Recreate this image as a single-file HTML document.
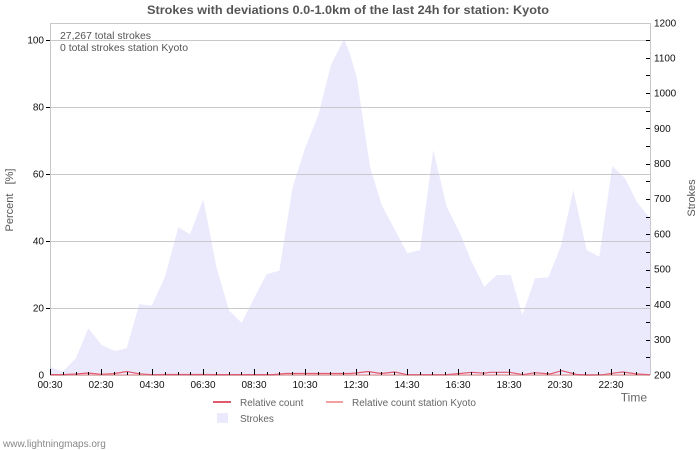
<!DOCTYPE html>
<html>
<head>
<meta charset="utf-8">
<style>
html,body{margin:0;padding:0;background:#fff;}
svg{display:block;}
text{font-family:"Liberation Sans",sans-serif;}
</style>
</head>
<body>
<svg width="700" height="450" viewBox="0 0 700 450" xmlns="http://www.w3.org/2000/svg">
<rect x="0" y="0" width="700" height="450" fill="#fff"/>
<!-- title -->
<text x="348" y="14" text-anchor="middle" font-size="12" font-weight="bold" fill="#555" textLength="402" lengthAdjust="spacingAndGlyphs">Strokes with deviations 0.0-1.0km of the last 24h for station: Kyoto</text>

<!-- area -->
<polygon fill="#ebeafd" points="50,375 50,366.7 62.7,371.7 76,358 88.3,328.3 101.7,345 115,351 126.7,348.3 139.3,304 151.7,305.7 165,276.7 178.3,227.3 190,234.3 203.3,199.3 216.7,268.3 229.3,310.7 241.7,322.7 254,298.3 266.7,274 279.3,270.7 292.7,186.7 305,148.3 318.3,115 331,65 344,39 350,54 356.7,76.7 370,166.7 381.7,205 395,230 407.3,253.3 420,250 433.3,150 446.7,206.7 460,233.3 471.7,261.7 484.3,286.7 496.7,275 510.7,275 522.3,315 535,278.3 548.3,277.3 560.7,246.7 573.3,190 586.7,250 599.3,256.7 612.3,166 625,178.3 636.7,201.7 650,218.3 650,375"/>

<!-- grid -->
<g stroke="#c8c8cc" stroke-width="1">
<line x1="50" y1="23.5" x2="650" y2="23.5"/>
<line x1="50" y1="40.5" x2="650" y2="40.5"/>
<line x1="50" y1="107.5" x2="650" y2="107.5"/>
<line x1="50" y1="174.5" x2="650" y2="174.5"/>
<line x1="50" y1="241.5" x2="650" y2="241.5"/>
<line x1="50" y1="308.5" x2="650" y2="308.5"/>
<line x1="50.5" y1="23" x2="50.5" y2="375"/>
<line x1="650.5" y1="23" x2="650.5" y2="375"/>
<line x1="50" y1="375.5" x2="650" y2="375.5"/>
</g>

<!-- red lines -->
<polyline fill="none" stroke="#f5a0a0" stroke-width="1.2" points="50,374.8 650,374.8"/>
<polyline fill="none" stroke="#e05a6e" stroke-width="1.2" points="50,374.6 63,374.6 76,374 88,373 101,374.3 114,373.6 127,371.5 139,373.8 152,374.7 165,374.5 203,374.5 216,374.6 273,374.6 286,373.5 350,373.5 356,373 368,371.5 381,373.5 395,372 407,374.7 420,374.7 446,374.7 459,373.6 471.7,372.3 484,373.2 490,372.3 510,372.3 523,374.7 535,372.7 550,374 561.7,370.7 576.7,374.5 590,375 603,374.7 616.7,372.7 623,372 636.7,374 650,374.7"/>

<!-- x ticks -->
<g stroke="#000" stroke-width="1">
<line x1="50.5" y1="369" x2="50.5" y2="375"/>
<line x1="63.5" y1="372" x2="63.5" y2="375"/>
<line x1="76.5" y1="372" x2="76.5" y2="375"/>
<line x1="88.5" y1="372" x2="88.5" y2="375"/>
<line x1="101.5" y1="369" x2="101.5" y2="375"/>
<line x1="114.5" y1="372" x2="114.5" y2="375"/>
<line x1="127.5" y1="372" x2="127.5" y2="375"/>
<line x1="139.5" y1="372" x2="139.5" y2="375"/>
<line x1="152.5" y1="369" x2="152.5" y2="375"/>
<line x1="165.5" y1="372" x2="165.5" y2="375"/>
<line x1="178.5" y1="372" x2="178.5" y2="375"/>
<line x1="190.5" y1="372" x2="190.5" y2="375"/>
<line x1="203.5" y1="369" x2="203.5" y2="375"/>
<line x1="216.5" y1="372" x2="216.5" y2="375"/>
<line x1="229.5" y1="372" x2="229.5" y2="375"/>
<line x1="241.5" y1="372" x2="241.5" y2="375"/>
<line x1="254.5" y1="369" x2="254.5" y2="375"/>
<line x1="267.5" y1="372" x2="267.5" y2="375"/>
<line x1="279.5" y1="372" x2="279.5" y2="375"/>
<line x1="292.5" y1="372" x2="292.5" y2="375"/>
<line x1="305.5" y1="369" x2="305.5" y2="375"/>
<line x1="318.5" y1="372" x2="318.5" y2="375"/>
<line x1="330.5" y1="372" x2="330.5" y2="375"/>
<line x1="343.5" y1="372" x2="343.5" y2="375"/>
<line x1="356.5" y1="369" x2="356.5" y2="375"/>
<line x1="369.5" y1="372" x2="369.5" y2="375"/>
<line x1="381.5" y1="372" x2="381.5" y2="375"/>
<line x1="394.5" y1="372" x2="394.5" y2="375"/>
<line x1="407.5" y1="369" x2="407.5" y2="375"/>
<line x1="420.5" y1="372" x2="420.5" y2="375"/>
<line x1="432.5" y1="372" x2="432.5" y2="375"/>
<line x1="445.5" y1="372" x2="445.5" y2="375"/>
<line x1="458.5" y1="369" x2="458.5" y2="375"/>
<line x1="471.5" y1="372" x2="471.5" y2="375"/>
<line x1="483.5" y1="372" x2="483.5" y2="375"/>
<line x1="496.5" y1="372" x2="496.5" y2="375"/>
<line x1="509.5" y1="369" x2="509.5" y2="375"/>
<line x1="522.5" y1="372" x2="522.5" y2="375"/>
<line x1="534.5" y1="372" x2="534.5" y2="375"/>
<line x1="547.5" y1="372" x2="547.5" y2="375"/>
<line x1="560.5" y1="369" x2="560.5" y2="375"/>
<line x1="573.5" y1="372" x2="573.5" y2="375"/>
<line x1="585.5" y1="372" x2="585.5" y2="375"/>
<line x1="598.5" y1="372" x2="598.5" y2="375"/>
<line x1="611.5" y1="369" x2="611.5" y2="375"/>
<line x1="624.5" y1="372" x2="624.5" y2="375"/>
<line x1="636.5" y1="372" x2="636.5" y2="375"/>
</g>

<!-- left ticks -->
<g stroke="#000" stroke-width="1">
<line x1="46" y1="40.5" x2="50" y2="40.5"/>
<line x1="46" y1="107.5" x2="50" y2="107.5"/>
<line x1="46" y1="174.5" x2="50" y2="174.5"/>
<line x1="46" y1="241.5" x2="50" y2="241.5"/>
<line x1="46" y1="308.5" x2="50" y2="308.5"/>
</g>

<!-- right ticks -->
<g stroke="#000" stroke-width="1">
<line x1="646" y1="40.5" x2="650" y2="40.5"/>
<line x1="646" y1="58.5" x2="650" y2="58.5"/>
<line x1="646" y1="75.5" x2="650" y2="75.5"/>
<line x1="646" y1="93.5" x2="650" y2="93.5"/>
<line x1="646" y1="111.5" x2="650" y2="111.5"/>
<line x1="646" y1="128.5" x2="650" y2="128.5"/>
<line x1="646" y1="146.5" x2="650" y2="146.5"/>
<line x1="646" y1="164.5" x2="650" y2="164.5"/>
<line x1="646" y1="181.5" x2="650" y2="181.5"/>
<line x1="646" y1="199.5" x2="650" y2="199.5"/>
<line x1="646" y1="217.5" x2="650" y2="217.5"/>
<line x1="646" y1="234.5" x2="650" y2="234.5"/>
<line x1="646" y1="252.5" x2="650" y2="252.5"/>
<line x1="646" y1="270.5" x2="650" y2="270.5"/>
<line x1="646" y1="287.5" x2="650" y2="287.5"/>
<line x1="646" y1="305.5" x2="650" y2="305.5"/>
<line x1="646" y1="322.5" x2="650" y2="322.5"/>
<line x1="646" y1="340.5" x2="650" y2="340.5"/>
<line x1="646" y1="357.5" x2="650" y2="357.5"/>
</g>

<!-- left labels -->
<g font-size="10" fill="#111" text-anchor="end">
<text x="44" y="43.5">100</text>
<text x="44" y="110.5">80</text>
<text x="44" y="177.5">60</text>
<text x="44" y="244.5">40</text>
<text x="44" y="311.5">20</text>
<text x="44" y="378.5">0</text>
</g>

<!-- right labels -->
<g font-size="10" fill="#111">
<text x="654" y="26.5">1200</text>
<text x="654" y="61.5">1100</text>
<text x="654" y="96.5">1000</text>
<text x="654" y="132">900</text>
<text x="654" y="167">800</text>
<text x="654" y="202">700</text>
<text x="654" y="237.5">600</text>
<text x="654" y="272.5">500</text>
<text x="654" y="308">400</text>
<text x="654" y="343">300</text>
<text x="654" y="378.5">200</text>
</g>

<!-- x labels -->
<g font-size="10" fill="#111" text-anchor="middle">
<text x="50" y="388">00:30</text>
<text x="101" y="388">02:30</text>
<text x="152" y="388">04:30</text>
<text x="203" y="388">06:30</text>
<text x="254" y="388">08:30</text>
<text x="305" y="388">10:30</text>
<text x="356" y="388">12:30</text>
<text x="407" y="388">14:30</text>
<text x="458" y="388">16:30</text>
<text x="509" y="388">18:30</text>
<text x="560" y="388">20:30</text>
<text x="611" y="388">22:30</text>
</g>

<!-- annotations -->
<text x="60" y="39" font-size="10" fill="#555" textLength="91" lengthAdjust="spacingAndGlyphs">27,267 total strokes</text>
<text x="60" y="51" font-size="10" fill="#555" textLength="128" lengthAdjust="spacingAndGlyphs">0 total strokes station Kyoto</text>

<!-- axis titles -->
<text x="647" y="401.5" font-size="12" fill="#666" text-anchor="end">Time</text>
<text transform="translate(13,200) rotate(-90)" font-size="11" fill="#555" text-anchor="middle" xml:space="preserve">Percent   [%]</text>
<text transform="translate(695,198) rotate(-90)" font-size="11" fill="#555" text-anchor="middle">Strokes</text>

<!-- legend -->
<line x1="213" y1="402" x2="231" y2="402" stroke="#e05a6e" stroke-width="2"/>
<text x="240" y="406" font-size="10" fill="#666">Relative count</text>
<line x1="326" y1="402" x2="343" y2="402" stroke="#f5a0a0" stroke-width="2"/>
<text x="352" y="406" font-size="10" fill="#666">Relative count station Kyoto</text>
<rect x="217" y="413" width="11" height="10" fill="#ebeafd"/>
<text x="240" y="422" font-size="10" fill="#666">Strokes</text>

<text x="3" y="447" font-size="10" fill="#888">www.lightningmaps.org</text>
</svg>
</body>
</html>
